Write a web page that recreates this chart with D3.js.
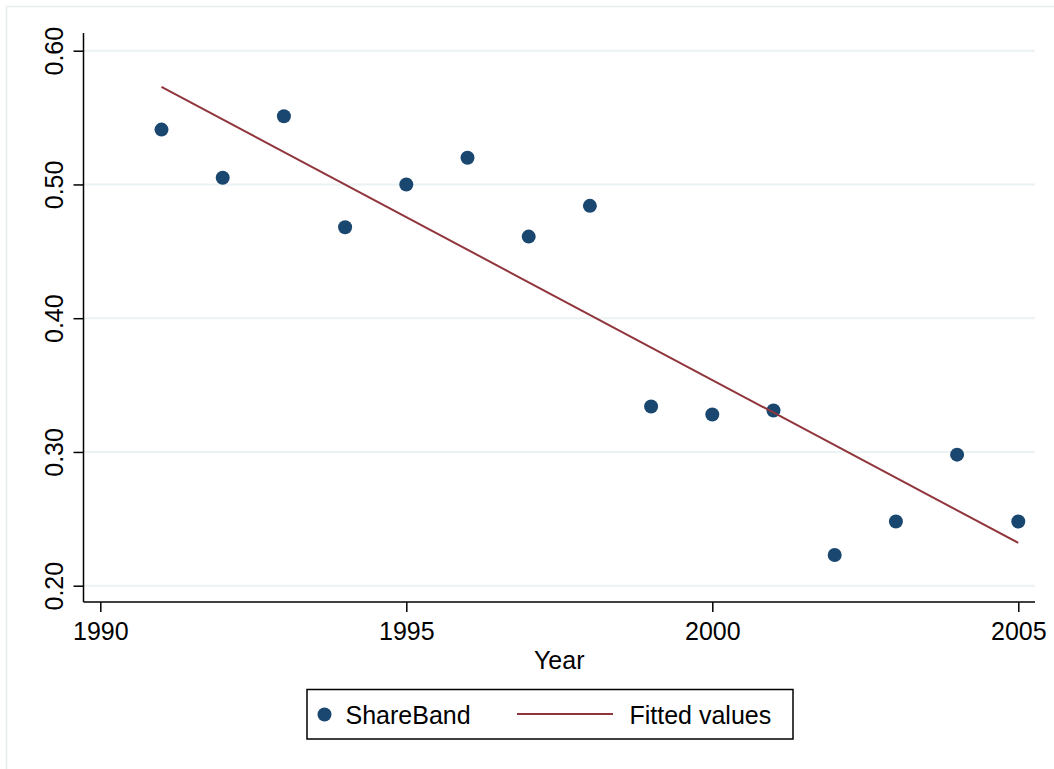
<!DOCTYPE html>
<html>
<head>
<meta charset="utf-8">
<script src="https://cdn.jsdelivr.net/npm/d3@7"></script>
<style>
  html, body { margin: 0; padding: 0; background: #fff; }
  svg { display: block; font-family: "Liberation Sans", Arial, Helvetica, sans-serif; }
</style>
</head>
<body>
<svg id="chart" width="1054" height="769"></svg>
<script>
// Share of banded observations by year, with a linear fit
const years = [1991, 1992, 1993, 1994, 1995, 1996, 1997, 1998, 1999, 2000, 2001, 2002, 2003, 2004, 2005];
const shareBand = [0.541, 0.505, 0.551, 0.468, 0.500, 0.520, 0.461, 0.484, 0.334, 0.328, 0.331, 0.223, 0.248, 0.298, 0.248];

// Fitted regression line, evaluated at the first and last year
const fittedYears = [1991, 2005];
const fittedValues = [0.573, 0.232];

const xTicks = [1990, 1995, 2000, 2005];
const yTicks = [0.20, 0.30, 0.40, 0.50, 0.60];

const legendLabels = ["ShareBand", "Fitted values"];

const navy = "#1a476f";
const maroon = "#90353b";
const gridColor = "#eaf2f3";

const svg = d3.select("#chart");

// Outer graph-region frame
svg.append("rect")
  .attr("x", 6.5).attr("y", 6.5)
  .attr("width", 1060).attr("height", 800)
  .attr("fill", "none")
  .attr("stroke", "#e8eeef")
  .attr("stroke-width", 1.5);

const plot = { left: 83.5, right: 1035, top: 33, bottom: 602 };

const x = d3.scaleLinear().domain([1990, 2005]).range([100.3, 1018.3]);
const y = d3.scaleLinear().domain([0.20, 0.60]).range([585.7, 50.7]);

// Horizontal gridlines
svg.append("g")
  .selectAll("line")
  .data(yTicks)
  .join("line")
  .attr("x1", plot.left).attr("x2", plot.right)
  .attr("y1", d => y(d)).attr("y2", d => y(d))
  .attr("stroke", gridColor)
  .attr("stroke-width", 2);

// Y axis
const yAxis = d3.axisLeft(y)
  .tickValues(yTicks)
  .tickFormat(d3.format(".2f"))
  .tickSize(10)
  .tickPadding(4);

const gy = svg.append("g")
  .attr("transform", `translate(${plot.left},0)`)
  .call(yAxis);
gy.select(".domain").remove();
gy.selectAll(".tick line").attr("stroke", "#000").attr("stroke-width", 1.5);
gy.selectAll(".tick text")
  .attr("fill", "#000")
  .attr("font-size", 25)
  .attr("text-anchor", "middle")
  .attr("dy", 0)
  .attr("x", 0)
  .attr("transform", "translate(-20.5,0) rotate(-90)");

svg.append("line")
  .attr("x1", plot.left).attr("x2", plot.left)
  .attr("y1", plot.top).attr("y2", plot.bottom)
  .attr("stroke", "#000").attr("stroke-width", 1.5);

// X axis
const xAxis = d3.axisBottom(x)
  .tickValues(xTicks)
  .tickFormat(d3.format("d"))
  .tickSize(10)
  .tickPadding(8);

const gx = svg.append("g")
  .attr("transform", `translate(0,${plot.bottom})`)
  .call(xAxis);
gx.select(".domain").remove();
gx.selectAll(".tick line").attr("stroke", "#000").attr("stroke-width", 1.5);
gx.selectAll(".tick text")
  .attr("fill", "#000")
  .attr("font-size", 25)
  .attr("dy", 0)
  .attr("y", 37.5);

svg.append("line")
  .attr("x1", plot.left).attr("x2", plot.right)
  .attr("y1", plot.bottom).attr("y2", plot.bottom)
  .attr("stroke", "#000").attr("stroke-width", 1.5);

// Axis title
svg.append("text")
  .attr("x", (plot.left + plot.right) / 2)
  .attr("y", 669)
  .attr("text-anchor", "middle")
  .attr("font-size", 25)
  .attr("fill", "#000")
  .text("Year");

// Scatter points
svg.append("g")
  .selectAll("circle")
  .data(years.map((yr, i) => ({ yr, v: shareBand[i] })))
  .join("circle")
  .attr("cx", d => x(d.yr))
  .attr("cy", d => y(d.v))
  .attr("r", 7)
  .attr("fill", navy);

// Fitted line
const fitLine = d3.line().x(d => x(d[0])).y(d => y(d[1]));
svg.append("path")
  .datum(fittedYears.map((yr, i) => [yr, fittedValues[i]]))
  .attr("d", fitLine)
  .attr("fill", "none")
  .attr("stroke", maroon)
  .attr("stroke-width", 2);

// Legend
const legend = svg.append("g");
legend.append("rect")
  .attr("x", 307).attr("y", 689.5)
  .attr("width", 486).attr("height", 49.5)
  .attr("fill", "#fff")
  .attr("stroke", "#000")
  .attr("stroke-width", 1.5);

legend.append("circle")
  .attr("cx", 324.5).attr("cy", 714.5)
  .attr("r", 7)
  .attr("fill", navy);
legend.append("text")
  .attr("x", 345.5).attr("y", 723.5)
  .attr("font-size", 25)
  .attr("fill", "#000")
  .text(legendLabels[0]);

legend.append("line")
  .attr("x1", 517).attr("x2", 613)
  .attr("y1", 714).attr("y2", 714)
  .attr("stroke", maroon)
  .attr("stroke-width", 2);
legend.append("text")
  .attr("x", 629.5).attr("y", 723.5)
  .attr("font-size", 25)
  .attr("fill", "#000")
  .text(legendLabels[1]);
</script>
</body>
</html>
